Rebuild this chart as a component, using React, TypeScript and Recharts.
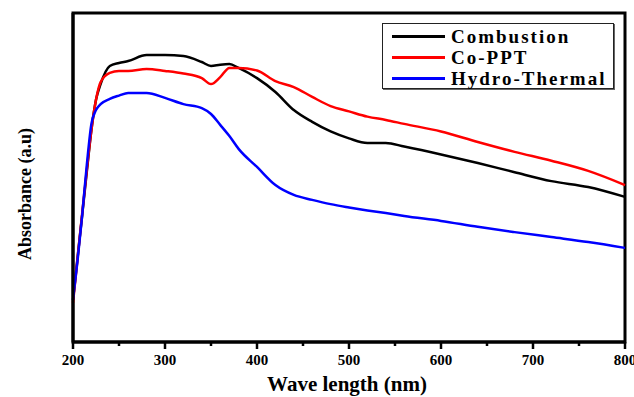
import React from "react";
import {
  LineChart,
  Line,
  XAxis,
  YAxis,
  Legend,
  Label,
  ReferenceArea,
} from "recharts";

const wavelengths = [
  200, 205, 210, 215, 220, 225, 230, 240, 250, 260, 280, 300, 320, 340, 350, 360, 370,
  380, 400, 420, 440, 460, 480, 500, 520, 540, 560, 600, 640, 680, 720, 760, 800,
];

const combustion = [
  12.8, 25.8, 38.6, 51.7, 64.4, 73.6, 78.4, 83.9, 84.8, 85.4, 87.2, 87.2, 86.9, 85.1, 83.9,
  84.3, 84.5, 83.3, 80.2, 76.0, 70.5, 66.9, 64.0, 61.9, 60.5, 60.5, 59.4, 57.0, 54.4, 51.6,
  48.9, 47.1, 44.1,
];

const coPpt = [
  11.9, 25.5, 39.2, 52.3, 64.4, 73.6, 79.0, 81.8, 82.4, 82.4, 83.0, 82.4, 81.6, 80.2, 78.4,
  80.5, 83.3, 83.3, 82.5, 79.3, 77.5, 74.5, 71.7, 70.1, 68.5, 67.5, 66.3, 64.0, 60.8, 57.8,
  55.1, 52.0, 47.7,
];

const hydroThermal = [
  12.8, 24.9, 38.6, 53.8, 66.3, 70.5, 72.3, 73.9, 74.9, 75.7, 75.7, 74.2, 72.3, 71.1, 69.3,
  66.0, 62.6, 58.7, 53.2, 47.7, 44.7, 43.2, 41.9, 40.9, 40.0, 39.2, 38.3, 36.8, 35.0, 33.4,
  31.9, 30.4, 28.6,
];

const xTicks = [200, 250, 300, 350, 400, 450, 500, 550, 600, 650, 700, 750, 800];

const seriesInfo = [
  { key: "combustion", name: "Combustion", color: "#000000" },
  { key: "coPpt", name: "Co-PPT", color: "#ff0000" },
  { key: "hydro", name: "Hydro-Thermal", color: "#0000ff" },
];

const data = wavelengths.map((wl, i) => ({
  wl,
  combustion: combustion[i],
  coPpt: coPpt[i],
  hydro: hydroThermal[i],
}));

const FONT = '"Liberation Serif", "Times New Roman", serif';

const WaveTick = (props: any) => {
  const { x, y, payload } = props;
  const major = payload.value % 100 === 0;
  const axisY = y - 8;
  return (
    <g>
      <line x1={x} x2={x} y1={axisY} y2={axisY + (major ? 7 : 4)} stroke="#000" strokeWidth={2.5} />
      {major && (
        <text x={x} y={axisY + 23} textAnchor="middle" fontFamily={FONT} fontWeight="bold" fontSize={15} fill="#000">
          {payload.value}
        </text>
      )}
    </g>
  );
};

const renderLegend = () => (
  <div
    style={{
      border: "1.5px solid #222",
      boxShadow: "1px 1px 0 #666",
      background: "#fff",
      padding: "2px 0 0 9px",
      boxSizing: "border-box",
      width: 232,
      height: 66,
    }}
  >
    {seriesInfo.map((s) => (
      <div key={s.key} style={{ display: "flex", alignItems: "center", height: 21 }}>
        <div style={{ width: 53, height: 2.5, background: s.color, marginRight: 6 }} />
        <span
          style={{
            fontFamily: FONT,
            fontWeight: "bold",
            fontSize: 19,
            letterSpacing: 2,
            color: "#000",
            lineHeight: "21px",
          }}
        >
          {s.name}
        </span>
      </div>
    ))}
  </div>
);

export default function App() {
  return (
    <div style={{ position: "absolute", left: 0, top: 0, background: "#fff" }}>
      <LineChart width={634} height={397} data={data} margin={{ top: 13, right: 9, left: 0, bottom: 25 }}>
        <XAxis
          dataKey="wl"
          type="number"
          domain={[200, 800]}
          ticks={xTicks}
          interval={0}
          tickLine={false}
          tickSize={6}
          tickMargin={2}
          tick={<WaveTick />}
          axisLine={{ stroke: "#000", strokeWidth: 3 }}
          height={30}
        >
          <Label
            content={(p: any) => {
              const vb = p.viewBox;
              return (
                <text
                  x={vb.x + vb.width / 2 - 2}
                  y={391}
                  textAnchor="middle"
                  fontFamily={FONT}
                  fontWeight="bold"
                  fontSize={21}
                  fill="#000"
                >
                  Wave length (nm)
                </text>
              );
            }}
          />
        </XAxis>
        <YAxis
          type="number"
          domain={[0, 100]}
          width={73}
          tick={false}
          tickLine={false}
          axisLine={{ stroke: "#000", strokeWidth: 3 }}
        >
          <Label
            content={() => (
              <text
                x={31}
                y={194}
                transform="rotate(-90 31 194)"
                textAnchor="middle"
                fontFamily={FONT}
                fontWeight="bold"
                fontSize={18}
                fill="#000"
              >
                Absorbance (a.u)
              </text>
            )}
          />
        </YAxis>
        <ReferenceArea x1={200} x2={800} y1={0} y2={100} fill="none" stroke="#000" strokeWidth={3} />
        <Legend
          layout="vertical"
          align="center"
          verticalAlign="middle"
          content={renderLegend}
          wrapperStyle={{ left: 382, top: 23, width: 232, height: 66 }}
        />
        {seriesInfo.map((s) => (
          <Line
            key={s.key}
            dataKey={s.key}
            name={s.name}
            type="monotone"
            stroke={s.color}
            strokeWidth={2.5}
            dot={false}
            isAnimationActive={false}
          />
        ))}
      </LineChart>
    </div>
  );
}
